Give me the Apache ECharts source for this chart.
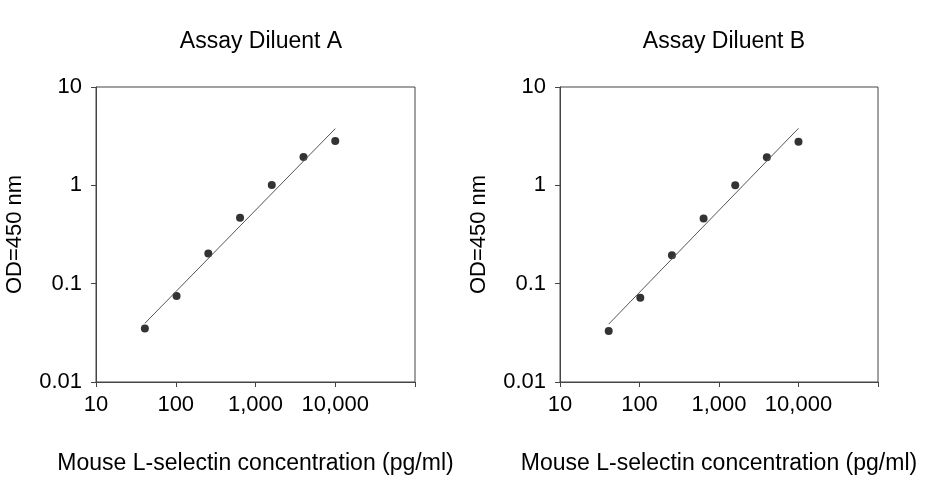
<!DOCTYPE html>
<html>
<head>
<meta charset="utf-8">
<script src="https://cdn.jsdelivr.net/npm/echarts@6/dist/echarts.min.js"></script>
<style>
  html, body { margin: 0; padding: 0; background: #fff; }
  #chart { width: 926px; height: 480px; }
</style>
</head>
<body>
<div id="chart"></div>
<script>
// standard concentrations (pg/ml)
var conc = [41, 102.4, 256, 640, 1600, 4000, 10000];
// OD readings
var odA = [0.035, 0.075, 0.203, 0.469, 1.01, 1.94, 2.82];
var odB = [0.033, 0.072, 0.195, 0.461, 1.0, 1.93, 2.78];
// fitted line ends
var fitX = [41, 10000];
var fitA = [0.0395, 3.77];
var fitB = [0.0388, 3.8];

var titles = ['Assay Diluent A', 'Assay Diluent B'];
var xTickLabels = ['10', '100', '1,000', '10,000', ''];
var yTickLabels = ['0.01', '0.1', '1', '10'];
var xName = 'Mouse L-selectin concentration (pg/ml)';
var yName = 'OD=450 nm';

var FONT = 'Liberation Sans, Arial, sans-serif';
var myChart = echarts.init(document.getElementById('chart'));

function pairs(xs, ys) {
    var out = [];
    for (var i = 0; i < xs.length; i++) out.push([xs[i], ys[i]]);
    return out;
}

function xAxisOf(idx) {
    return {
        type: 'log', logBase: 10, min: 10, max: 100000, gridIndex: idx,
        name: xName, nameLocation: 'middle', nameGap: 70,
        nameTextStyle: { color: '#000', fontSize: 23, fontFamily: FONT },
        axisLine: { lineStyle: { color: '#444', width: 1 } },
        axisTick: { length: 5, lineStyle: { color: '#444' } },
        splitLine: { show: false },
        minorTick: { show: false },
        axisLabel: {
            color: '#000', fontSize: 22, fontFamily: FONT, margin: 12,
            formatter: function (v) {
                var k = Math.round(Math.log10(v)) - 1;
                return xTickLabels[k] !== undefined ? xTickLabels[k] : '';
            }
        }
    };
}

function yAxisOf(idx) {
    return {
        type: 'log', logBase: 10, min: 0.01, max: 10, gridIndex: idx,
        name: yName, nameLocation: 'middle', nameGap: 70,
        nameTextStyle: { color: '#000', fontSize: 22, fontFamily: FONT },
        axisLine: { lineStyle: { color: '#444', width: 1 } },
        axisTick: { length: 5, lineStyle: { color: '#444' } },
        splitLine: { show: false },
        axisLabel: {
            color: '#000', fontSize: 22, fontFamily: FONT, margin: 14,
            formatter: function (v) {
                var k = Math.round(Math.log10(v)) + 2;
                return yTickLabels[k] !== undefined ? yTickLabels[k] : '';
            }
        }
    };
}

var option = {
    backgroundColor: '#fff',
    animation: false,
    title: [
        { text: titles[0], left: 256, top: 25, textAlign: 'center',
          textStyle: { color: '#000', fontSize: 23, fontWeight: 'normal', fontFamily: FONT } },
        { text: titles[1], left: 719, top: 25, textAlign: 'center',
          textStyle: { color: '#000', fontSize: 23, fontWeight: 'normal', fontFamily: FONT } }
    ],
    grid: [
        { left: 96, top: 87, width: 319, height: 295, show: true, borderColor: '#444', borderWidth: 1 },
        { left: 560, top: 87, width: 318, height: 295, show: true, borderColor: '#444', borderWidth: 1 }
    ],
    xAxis: [xAxisOf(0), xAxisOf(1)],
    yAxis: [yAxisOf(0), yAxisOf(1)],
    series: [
        { type: 'line', xAxisIndex: 0, yAxisIndex: 0, data: pairs(fitX, fitA), symbol: 'none',
          lineStyle: { color: '#555', width: 1 } },
        { type: 'scatter', xAxisIndex: 0, yAxisIndex: 0, data: pairs(conc, odA), symbolSize: 8,
          itemStyle: { color: '#000' } },
        { type: 'line', xAxisIndex: 1, yAxisIndex: 1, data: pairs(fitX, fitB), symbol: 'none',
          lineStyle: { color: '#555', width: 1 } },
        { type: 'scatter', xAxisIndex: 1, yAxisIndex: 1, data: pairs(conc, odB), symbolSize: 8,
          itemStyle: { color: '#000' } }
    ]
};
myChart.setOption(option);
</script>
</body>
</html>
